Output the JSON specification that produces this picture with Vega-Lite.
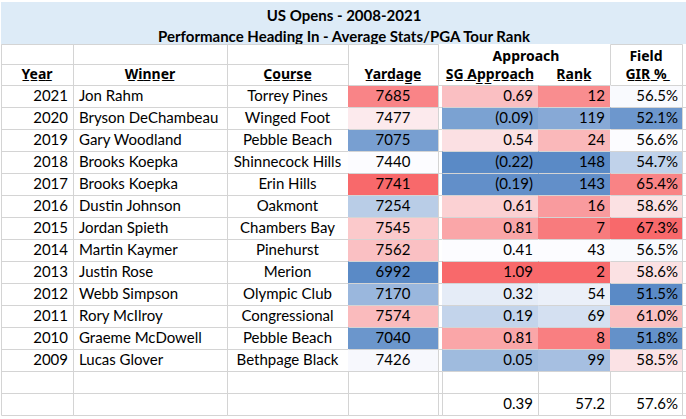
{
  "$schema": "https://vega.github.io/schema/vega-lite/v6.json",
  "padding": {"left": 0, "top": 2, "right": 0, "bottom": 0},
  "spacing": 0,
  "bounds": "flush",
  "columns": 9,
  "datasets": {
    "main": [
      {"Year": 2021, "Winner": "Jon Rahm", "Course": "Torrey Pines", "Yardage": 7685, "SG": 0.69, "Rank": 12, "GIR": 0.565},
      {"Year": 2020, "Winner": "Bryson DeChambeau", "Course": "Winged Foot", "Yardage": 7477, "SG": -0.09, "Rank": 119, "GIR": 0.521},
      {"Year": 2019, "Winner": "Gary Woodland", "Course": "Pebble Beach", "Yardage": 7075, "SG": 0.54, "Rank": 24, "GIR": 0.566},
      {"Year": 2018, "Winner": "Brooks Koepka", "Course": "Shinnecock Hills", "Yardage": 7440, "SG": -0.22, "Rank": 148, "GIR": 0.547},
      {"Year": 2017, "Winner": "Brooks Koepka", "Course": "Erin Hills", "Yardage": 7741, "SG": -0.19, "Rank": 143, "GIR": 0.654},
      {"Year": 2016, "Winner": "Dustin Johnson", "Course": "Oakmont", "Yardage": 7254, "SG": 0.61, "Rank": 16, "GIR": 0.586},
      {"Year": 2015, "Winner": "Jordan Spieth", "Course": "Chambers Bay", "Yardage": 7545, "SG": 0.81, "Rank": 7, "GIR": 0.673},
      {"Year": 2014, "Winner": "Martin Kaymer", "Course": "Pinehurst", "Yardage": 7562, "SG": 0.41, "Rank": 43, "GIR": 0.565},
      {"Year": 2013, "Winner": "Justin Rose", "Course": "Merion", "Yardage": 6992, "SG": 1.09, "Rank": 2, "GIR": 0.586},
      {"Year": 2012, "Winner": "Webb Simpson", "Course": "Olympic Club", "Yardage": 7170, "SG": 0.32, "Rank": 54, "GIR": 0.515},
      {"Year": 2011, "Winner": "Rory McIlroy", "Course": "Congressional", "Yardage": 7574, "SG": 0.19, "Rank": 69, "GIR": 0.610},
      {"Year": 2010, "Winner": "Graeme McDowell", "Course": "Pebble Beach", "Yardage": 7040, "SG": 0.81, "Rank": 8, "GIR": 0.518},
      {"Year": 2009, "Winner": "Lucas Glover", "Course": "Bethpage Black", "Yardage": 7426, "SG": 0.05, "Rank": 99, "GIR": 0.585}
    ],
    "titles": [
      {"l": 1, "t": "US Opens - 2008-2021"},
      {"l": 2, "t": "Performance Heading In - Average Stats/PGA Tour Rank"}
    ],
    "none": [{"l": 1, "t": ""}]
  },
  "concat": [
    {"width": 72, "height": 42, "view": {"fill": "#DDEBF7", "stroke": null}, "data": {"name": "none"}, "mark": "text", "encoding": {"text": {"field": "t"}}},
    {"width": 154, "height": 42, "view": {"fill": "#DDEBF7", "stroke": null}, "data": {"name": "none"}, "mark": "text", "encoding": {"text": {"field": "t"}}},
    {"width": 121, "height": 42, "view": {"fill": "#DDEBF7", "stroke": null}, "data": {"name": "none"}, "mark": "text", "encoding": {"text": {"field": "t"}}},
    {"width": 90, "height": 42, "view": {"fill": "#DDEBF7", "stroke": null}, "data": {"name": "none"}, "mark": "text", "encoding": {"text": {"field": "t"}}},
    {"width": 4, "height": 42, "view": {"fill": "#DDEBF7", "stroke": null}, "data": {"name": "none"}, "mark": "text", "encoding": {"text": {"field": "t"}}},
    {"width": 96, "height": 42, "view": {"fill": "#DDEBF7", "stroke": null}, "data": {"name": "none"}, "mark": "text", "encoding": {"text": {"field": "t"}}},
    {"width": 72, "height": 42, "view": {"fill": "#DDEBF7", "stroke": null}, "data": {"name": "none"}, "mark": "text", "encoding": {"text": {"field": "t"}}},
    {"width": 72, "height": 42, "view": {"fill": "#DDEBF7", "stroke": null}, "data": {"name": "none"}, "mark": "text", "encoding": {"text": {"field": "t"}}},
    {"width": 5, "height": 42, "view": {"fill": "#DDEBF7", "stroke": null}, "data": {"name": "titles"},
     "mark": {"type": "text", "fontWeight": "bold", "dx": -340.5, "dy": 3},
     "encoding": {"y": {"field": "l", "type": "ordinal", "scale": {"type": "band", "paddingInner": 0, "paddingOuter": 0}, "axis": null}, "text": {"field": "t", "type": "nominal"}}},

    {"width": 72, "height": 41, "data": {"values": [{"r": "h1", "t": ""}, {"r": "h2", "t": "Y\u0332e\u0332a\u0332r\u0332"}]},
     "mark": {"type": "text", "fontWeight": "bold", "font": "Noto Sans", "fontSize": 14},
     "encoding": {"y": {"field": "r", "type": "ordinal", "scale": {"type": "band", "paddingInner": 0, "paddingOuter": 0}, "axis": {"labels": false, "ticks": false, "domain": false, "title": null, "grid": true, "gridColor": "#D4D4D4", "bandPosition": 0}}, "text": {"field": "t"}}},
    {"width": 154, "height": 41, "data": {"values": [{"r": "h1", "t": ""}, {"r": "h2", "t": "W\u0332i\u0332n\u0332n\u0332e\u0332r\u0332"}]},
     "mark": {"type": "text", "fontWeight": "bold", "font": "Noto Sans", "fontSize": 14},
     "encoding": {"y": {"field": "r", "type": "ordinal", "scale": {"type": "band", "paddingInner": 0, "paddingOuter": 0}, "axis": {"labels": false, "ticks": false, "domain": false, "title": null, "grid": true, "gridColor": "#D4D4D4", "bandPosition": 0}}, "text": {"field": "t"}}},
    {"width": 121, "height": 41, "data": {"values": [{"r": "h1", "t": ""}, {"r": "h2", "t": "C\u0332o\u0332u\u0332r\u0332s\u0332e\u0332"}]},
     "mark": {"type": "text", "fontWeight": "bold", "font": "Noto Sans", "fontSize": 14},
     "encoding": {"y": {"field": "r", "type": "ordinal", "scale": {"type": "band", "paddingInner": 0, "paddingOuter": 0}, "axis": {"labels": false, "ticks": false, "domain": false, "title": null, "grid": true, "gridColor": "#D4D4D4", "bandPosition": 0}}, "text": {"field": "t"}}},
    {"width": 90, "height": 41, "data": {"values": [{"r": "h1", "t": ""}, {"r": "h2", "t": "Y\u0332a\u0332r\u0332d\u0332a\u0332g\u0332e\u0332"}]},
     "mark": {"type": "text", "fontWeight": "bold", "font": "Noto Sans", "fontSize": 14},
     "encoding": {"y": {"field": "r", "type": "ordinal", "scale": {"type": "band", "paddingInner": 0, "paddingOuter": 0}, "axis": null}, "text": {"field": "t"}}},
    {"width": 4, "height": 41, "data": {"name": "none"}, "mark": "text", "encoding": {"text": {"field": "t"}}},
    {"width": 96, "height": 41, "view": {"stroke": null}, "data": {"values": [{"r": "h1", "t": "Approach"}, {"r": "h2", "t": "S\u0332G\u0332 \u0332A\u0332p\u0332p\u0332r\u0332o\u0332a\u0332c\u0332h\u0332"}]},
     "encoding": {"y": {"field": "r", "type": "ordinal", "scale": {"type": "band", "paddingInner": 0, "paddingOuter": 0, "domain": ["h1", "h2"]}, "axis": null}, "text": {"field": "t"}},
     "layer": [
       {"transform": [{"filter": "datum.r == 'h2'"}], "mark": {"type": "text", "fontWeight": "bold", "font": "Noto Sans", "fontSize": 14}},
       {"transform": [{"filter": "datum.r == 'h1'"}], "mark": {"type": "text", "fontWeight": "bold", "font": "Noto Sans", "fontSize": 14, "dx": 36, "dy": 3}}
     ]},
    {"width": 72, "height": 41, "view": {"stroke": null}, "data": {"values": [{"r": "h1", "t": ""}, {"r": "h2", "t": "R\u0332a\u0332n\u0332k\u0332"}]},
     "mark": {"type": "text", "fontWeight": "bold", "font": "Noto Sans", "fontSize": 14},
     "encoding": {"y": {"field": "r", "type": "ordinal", "scale": {"type": "band", "paddingInner": 0, "paddingOuter": 0}, "axis": null}, "text": {"field": "t"}}},
    {"width": 72, "height": 41, "data": {"values": [{"r": "h1", "t": "Field"}, {"r": "h2", "t": "G\u0332I\u0332R\u0332 \u0332%\u0332"}]},
     "encoding": {"y": {"field": "r", "type": "ordinal", "scale": {"type": "band", "paddingInner": 0, "paddingOuter": 0, "domain": ["h1", "h2"]}, "axis": null}, "text": {"field": "t"}},
     "layer": [
       {"transform": [{"filter": "datum.r == 'h2'"}], "mark": {"type": "text", "fontWeight": "bold", "font": "Noto Sans", "fontSize": 14}},
       {"transform": [{"filter": "datum.r == 'h1'"}], "mark": {"type": "text", "fontWeight": "bold", "font": "Noto Sans", "fontSize": 14, "dy": 3}}
     ]},
    {"width": 5, "height": 41, "data": {"name": "none"}, "mark": "text", "encoding": {"text": {"field": "t"}}},

    {"width": 72, "height": 330, "data": {"name": "main"},
     "mark": {"type": "text", "align": "right", "dx": 31},
     "encoding": {"y": {"field": "Year", "type": "ordinal", "scale": {"type": "band", "paddingInner": 0, "paddingOuter": 0, "domain": [2021, 2020, 2019, 2018, 2017, 2016, 2015, 2014, 2013, 2012, 2011, 2010, 2009, "blank", "avg"]}, "axis": {"labels": false, "ticks": false, "domain": false, "title": null, "grid": true, "gridColor": "#D4D4D4", "bandPosition": 0}},
       "text": {"field": "Year", "type": "nominal"}}},
    {"width": 154, "height": 330, "data": {"name": "main"},
     "mark": {"type": "text", "align": "left", "dx": -71},
     "encoding": {"y": {"field": "Year", "type": "ordinal", "scale": {"type": "band", "paddingInner": 0, "paddingOuter": 0, "domain": [2021, 2020, 2019, 2018, 2017, 2016, 2015, 2014, 2013, 2012, 2011, 2010, 2009, "blank", "avg"]}, "axis": {"labels": false, "ticks": false, "domain": false, "title": null, "grid": true, "gridColor": "#D4D4D4", "bandPosition": 0}},
       "text": {"field": "Winner", "type": "nominal"}}},
    {"width": 121, "height": 330, "data": {"name": "main"},
     "mark": {"type": "text"},
     "encoding": {"y": {"field": "Year", "type": "ordinal", "scale": {"type": "band", "paddingInner": 0, "paddingOuter": 0, "domain": [2021, 2020, 2019, 2018, 2017, 2016, 2015, 2014, 2013, 2012, 2011, 2010, 2009, "blank", "avg"]}, "axis": {"labels": false, "ticks": false, "domain": false, "title": null, "grid": true, "gridColor": "#D4D4D4", "bandPosition": 0}},
       "text": {"field": "Course", "type": "nominal"}}},
    {"width": 90, "height": 330, "data": {"name": "main"},
     "encoding": {"y": {"field": "Year", "type": "ordinal", "scale": {"type": "band", "paddingInner": 0, "paddingOuter": 0, "domain": [2021, 2020, 2019, 2018, 2017, 2016, 2015, 2014, 2013, 2012, 2011, 2010, 2009, "blank", "avg"]}, "axis": {"labels": false, "ticks": false, "domain": false, "title": null, "grid": true, "gridColor": "#D4D4D4", "bandPosition": 0}}},
     "layer": [
       {"mark": {"type": "rect"}, "encoding": {"color": {"field": "Yardage", "type": "quantitative", "scale": {"domain": [6992, 7440, 7741], "range": ["#5A8AC6", "#FCFCFF", "#F8696B"], "interpolate": "rgb"}, "legend": null}}},
       {"mark": {"type": "text"}, "encoding": {"text": {"field": "Yardage", "type": "quantitative", "format": "d"}}}
     ]},
    {"width": 4, "height": 330, "data": {"name": "main"},
     "mark": {"type": "text"},
     "encoding": {"y": {"field": "Year", "type": "ordinal", "scale": {"type": "band", "paddingInner": 0, "paddingOuter": 0, "domain": [2021, 2020, 2019, 2018, 2017, 2016, 2015, 2014, 2013, 2012, 2011, 2010, 2009, "blank", "avg"]}, "axis": {"labels": false, "ticks": false, "domain": false, "title": null, "grid": true, "gridColor": "#D4D4D4", "bandPosition": 0}},
       "text": {"value": ""}}},
    {"width": 96, "height": 330, "data": {"name": "main"},
     "encoding": {"y": {"field": "Year", "type": "ordinal", "scale": {"type": "band", "paddingInner": 0, "paddingOuter": 0, "domain": [2021, 2020, 2019, 2018, 2017, 2016, 2015, 2014, 2013, 2012, 2011, 2010, 2009, "blank", "avg"]}, "axis": {"labels": false, "ticks": false, "domain": false, "title": null, "grid": true, "gridColor": "#D4D4D4", "bandPosition": 0}}},
     "layer": [
       {"mark": {"type": "rect"}, "encoding": {"color": {"field": "SG", "type": "quantitative", "scale": {"domain": [-0.22, 0.41, 1.09], "range": ["#5A8AC6", "#FCFCFF", "#F8696B"], "interpolate": "rgb"}, "legend": null}}},
       {"mark": {"type": "text", "align": "right", "dx": 43}, "encoding": {"text": {"field": "SG", "type": "quantitative", "format": "(.2f"}}},
       {"transform": [{"aggregate": [{"op": "mean", "field": "SG", "as": "meanSG"}]}],
        "mark": {"type": "text", "align": "right", "dx": 43},
        "encoding": {"y": {"datum": "avg", "type": "ordinal"}, "text": {"field": "meanSG", "type": "quantitative", "format": ".2f"}}}
     ]},
    {"width": 72, "height": 330, "data": {"name": "main"},
     "encoding": {"y": {"field": "Year", "type": "ordinal", "scale": {"type": "band", "paddingInner": 0, "paddingOuter": 0, "domain": [2021, 2020, 2019, 2018, 2017, 2016, 2015, 2014, 2013, 2012, 2011, 2010, 2009, "blank", "avg"]}, "axis": {"labels": false, "ticks": false, "domain": false, "title": null, "grid": true, "gridColor": "#D4D4D4", "bandPosition": 0}}},
     "layer": [
       {"mark": {"type": "rect"}, "encoding": {"color": {"field": "Rank", "type": "quantitative", "scale": {"domain": [2, 43, 148], "range": ["#F8696B", "#FCFCFF", "#5A8AC6"], "interpolate": "rgb"}, "legend": null}}},
       {"mark": {"type": "text", "align": "right", "dx": 31}, "encoding": {"text": {"field": "Rank", "type": "quantitative", "format": "d"}}},
       {"transform": [{"aggregate": [{"op": "mean", "field": "Rank", "as": "meanRank"}]}],
        "mark": {"type": "text", "align": "right", "dx": 31},
        "encoding": {"y": {"datum": "avg", "type": "ordinal"}, "text": {"field": "meanRank", "type": "quantitative", "format": ".1f"}}}
     ]},
    {"width": 72, "height": 330, "data": {"name": "main"},
     "encoding": {"y": {"field": "Year", "type": "ordinal", "scale": {"type": "band", "paddingInner": 0, "paddingOuter": 0, "domain": [2021, 2020, 2019, 2018, 2017, 2016, 2015, 2014, 2013, 2012, 2011, 2010, 2009, "blank", "avg"]}, "axis": {"labels": false, "ticks": false, "domain": false, "title": null, "grid": true, "gridColor": "#D4D4D4", "bandPosition": 0}}},
     "layer": [
       {"mark": {"type": "rect"}, "encoding": {"color": {"field": "GIR", "type": "quantitative", "scale": {"domain": [0.515, 0.566, 0.673], "range": ["#5A8AC6", "#FCFCFF", "#F8696B"], "interpolate": "rgb"}, "legend": null}}},
       {"mark": {"type": "text", "align": "right", "dx": 32}, "encoding": {"text": {"field": "GIR", "type": "quantitative", "format": ".1%"}}},
       {"transform": [{"aggregate": [{"op": "mean", "field": "GIR", "as": "meanGIR"}]}],
        "mark": {"type": "text", "align": "right", "dx": 32},
        "encoding": {"y": {"datum": "avg", "type": "ordinal"}, "text": {"field": "meanGIR", "type": "quantitative", "format": ".1%"}}}
     ]},
    {"width": 5, "height": 330, "data": {"name": "main"},
     "mark": {"type": "text"},
     "encoding": {"y": {"field": "Year", "type": "ordinal", "scale": {"type": "band", "paddingInner": 0, "paddingOuter": 0, "domain": [2021, 2020, 2019, 2018, 2017, 2016, 2015, 2014, 2013, 2012, 2011, 2010, 2009, "blank", "avg"]}, "axis": {"labels": false, "ticks": false, "domain": false, "title": null, "grid": true, "gridColor": "#D4D4D4", "bandPosition": 0}},
       "text": {"value": ""}}}
  ],
  "resolve": {"scale": {"color": "independent", "y": "independent"}},
  "config": {
    "view": {"stroke": "#D4D4D4"},
    "text": {"font": "Lato", "fontSize": 15, "color": "#000000"}
  }
}
